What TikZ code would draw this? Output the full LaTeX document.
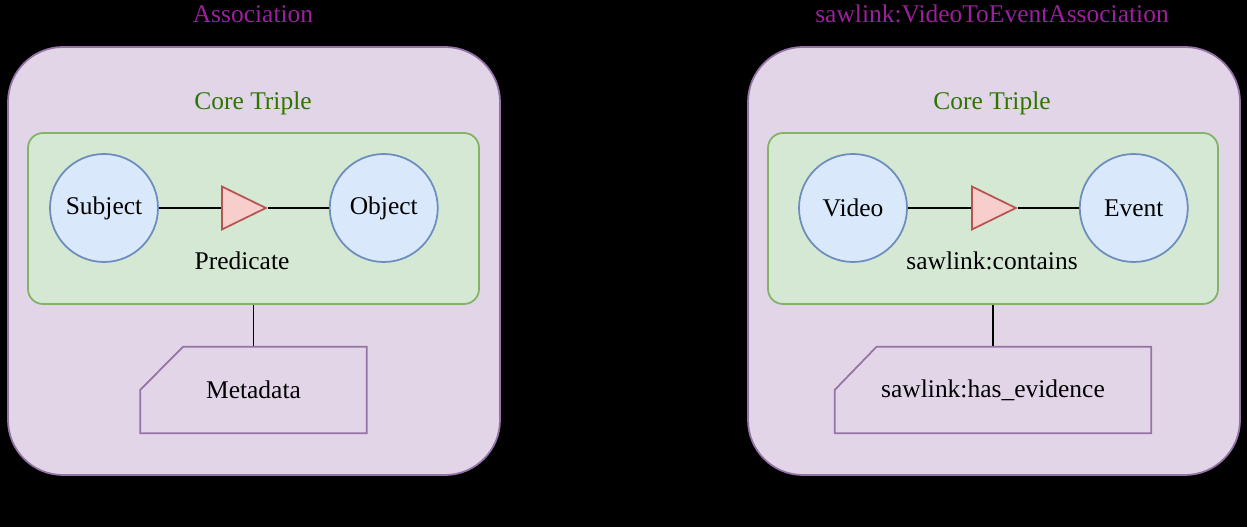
\documentclass[tikz,border=0pt]{standalone}
\usepackage{fontspec}
\setmainfont{Liberation Serif}
\usetikzlibrary{positioning, shapes.geometric}

\definecolor{panelfill}{HTML}{E1D5E7}
\definecolor{paneldraw}{HTML}{9673A6}
\definecolor{corefill}{HTML}{D5E8D4}
\definecolor{coredraw}{HTML}{82B366}
\definecolor{coretext}{HTML}{2D7600}
\definecolor{entfill}{HTML}{DAE8FC}
\definecolor{entdraw}{HTML}{6C8EBF}
\definecolor{predfill}{HTML}{F8CECC}
\definecolor{preddraw}{HTML}{B85450}
\definecolor{titletext}{HTML}{99229A}

\begin{document}
\begin{tikzpicture}[scale = 1,every node/.style={font=\fontsize{14.5}{17}\selectfont},
    panel/.style={draw=paneldraw,fill=panelfill,line width=1pt,rounded corners=1.1cm,minimum width=9.84cm,minimum height=8.56cm},
    core/.style={draw=coredraw,fill=corefill,line width=1pt,rounded corners=0.3cm,minimum height=3.42cm},
    entity/.style={draw=entdraw,fill=entfill,circle,line width=1pt,minimum size=2.16cm,inner sep=0},
    pred/.style={draw=preddraw,fill=predfill,isosceles triangle,isosceles triangle stretches=true,line width=1pt,minimum width=0.86cm,minimum height=0.88cm,inner sep=0,anchor=west},
    metabox/.style={draw=paneldraw,line width=1pt}]
    \fill[black] (0,0) rectangle (24.94,10.54);
    \useasboundingbox (0,0) rectangle (24.94,10.54);

    % panel (a)
    \node[panel](pa) at (5.08,5.32) {};
    \node[text=titletext](ta) at (5.06,10.26) {Association};
    \node[text=black](la) at (5.06,0.34) {(a)};
    \node[text=coretext](cta) at (5.06,8.48) {Core Triple};
    \node[core,minimum width=9.02cm](ca) at (5.07,6.17) {};
    \node[entity](subj) at (2.08,6.38) {Subject};
    \node[entity,right=3.4cm of subj](obj) {Object};
    \node[pred](pra) at (4.42,6.38) {};
    \node(prla) at (4.84,5.32) {Predicate};
    \node[minimum width=4.52cm,minimum height=1.72cm](meta) at (5.07,2.74) {Metadata};

    \draw[line width=1pt] (subj) -- (pra.west);
    \draw[line width=1pt] (pra.apex) -- (obj);
    \draw[line width=1pt] (ca.south) -- (meta.north);
    \draw[metabox] ([xshift=0.86cm]meta.north west) -- (meta.north east) -- (meta.south east) -- (meta.south west) -- (meta.west) -- cycle;

    % panel (b)
    \node[panel](pb) at (19.88,5.32) {};
    \node[text=titletext](tb) at (19.84,10.26) {sawlink:VideoToEventAssociation};
    \node[text=black](lb) at (19.8,0.34) {(b)};
    \node[text=coretext](ctb) at (19.84,8.48) {Core Triple};
    \node[core,minimum width=9.0cm](cb) at (19.86,6.17) {};
    \node[entity](video) at (17.06,6.38) {Video};
    \node[entity,right=3.42cm of video](event) {Event};
    \node[pred](prb) at (19.42,6.38) {};
    \node(prlb) at (19.84,5.32) {sawlink:contains};
    \node[minimum width=6.32cm,minimum height=1.72cm](evid) at (19.86,2.74) {sawlink:has\_evidence};

    \draw[line width=1pt] (video) -- (prb.west);
    \draw[line width=1pt] (prb.apex) -- (event);
    \draw[line width=1pt] (cb.south) -- (evid.north);
    \draw[metabox] ([xshift=0.84cm]evid.north west) -- (evid.north east) -- (evid.south east) -- (evid.south west) -- (evid.west) -- cycle;
\end{tikzpicture}
\end{document}
